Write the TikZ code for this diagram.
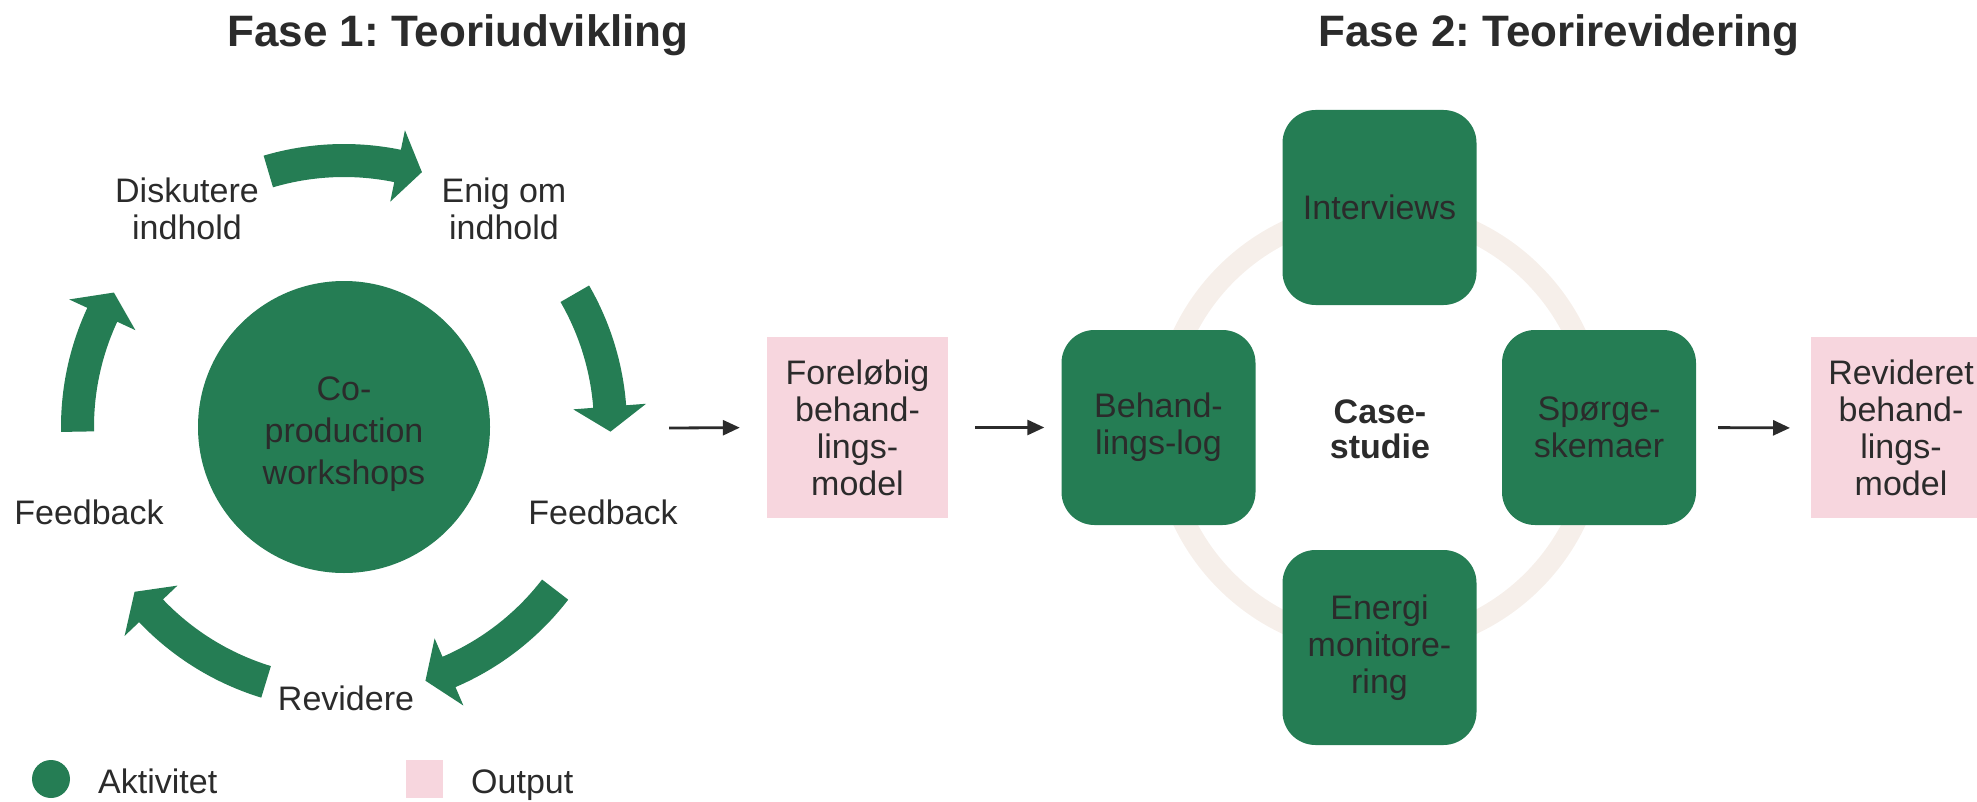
\documentclass[tikz,border=0pt]{standalone}
\usepackage{fontspec}
\setmainfont{Liberation Sans}
\usetikzlibrary{arrows.meta}
\frenchspacing
\definecolor{actgreen}{HTML}{257D54}
\definecolor{outpink}{HTML}{F7D6DE}
\definecolor{ringbeige}{HTML}{F6EFEA}
\definecolor{ink}{HTML}{2B2B2B}
% curved block arrow of the phase-1 cycle, drawn clockwise from angle #1 to the tip at angle #2
\newcommand\cyclearrow[2]{%
  \pgfmathsetmacro\headback{#2+5.4}%
  \fill[actgreen] (#1:283) arc[start angle=#1, end angle=\headback, radius=283]
    -- (\headback:303) -- (#2:266.5) -- (\headback:230) -- (\headback:250)
    arc[start angle=\headback, end angle=#1, radius=250] -- cycle;}
\begin{document}
\begin{tikzpicture}[x=1pt,y=-1pt,
  every node/.style={font=\fontsize{34}{37}\selectfont, text=ink, align=center, inner sep=0pt},
  title/.style={font=\fontsize{44}{50}\selectfont\bfseries, anchor=base},
  activity/.style={fill=actgreen, rounded corners=33pt, minimum width=194pt, minimum height=195pt},
  output/.style={fill=outpink, minimum width=181pt, minimum height=181pt},
  flow/.style={draw=ink, line width=2.8pt, -{Triangle[length=17pt,width=15pt]}},
]
\useasboundingbox (0,0) rectangle (1977,802);

% titles
\node[title] (t1) at (458,47) {Fase 1: Teoriudvikling};
\node[title] (t2) at (1559,47) {Fase 2: Teorirevidering};

% phase 1: workshop cycle
\node[circle, fill=actgreen, minimum size=292pt] (ws) at (344,427) {};
\node[font=\fontsize{34}{42}\selectfont] (wstext) at (344,434) {Co-\\production\\workshops};
\begin{scope}[shift={(344,427)}, yscale=-1]
  \cyclearrow{106.5}{73}
  \cyclearrow{30}{-1}
  \cyclearrow{-37.6}{-72.2}
  \cyclearrow{253}{218.2}
  \cyclearrow{181}{149.7}
\end{scope}
\node (disk) at (187,209) {Diskutere\\indhold};
\node (enig) at (504,209) {Enig om\\indhold};
\node (fbr) at (603,512) {Feedback};
\node (rev) at (346,698) {Revidere};
\node (fbl) at (89,512) {Feedback};

% phase 2: case study
\draw[ringbeige, line width=22pt] (1379.5,427.5) circle[radius=217];
\node[activity] (inter) at (1379.5,207.5) {Interviews};
\node[activity] (behand) at (1158.5,427.5) {Behand-\\lings-log};
\node[activity] (sporg) at (1599,427.5) {Spørge-\\skemaer};
\node[activity] (energi) at (1379.5,647.5) {Energi\\monitore-\\ring};
\node[font=\fontsize{34}{35}\selectfont\bfseries] (case) at (1380,429) {Case-\\studie};

% outputs
\node[output] (fore) at (857.5,427.5) {Foreløbig\\behand-\\lings-\\model};
\fill[outpink] (1811,337) rectangle (1977,518);
\node (revid) at (1901,427.5) {Revideret\\behand-\\lings-\\model};
\coordinate (revidwest) at (1811,428);

% flow between the phases
\coordinate (cycleout) at (669,428);
\draw[flow, shorten >=27pt] (cycleout) -- (fore.west);
\draw[flow, shorten <=27pt, shorten >=17pt] (fore.east) -- (behand.west);
\draw[flow, shorten <=22pt, shorten >=21pt] (sporg.east) -- (revidwest);

% legend
\node[circle, fill=actgreen, minimum width=37pt, minimum height=38pt] (legact) at (51,779) {};
\node[anchor=base west] (legacttxt) at (98,793) {Aktivitet};
\node[fill=outpink, minimum width=37pt, minimum height=38pt] (legout) at (424,779) {};
\node[anchor=base west] (legouttxt) at (471,793) {Output};
\end{tikzpicture}
\end{document}
